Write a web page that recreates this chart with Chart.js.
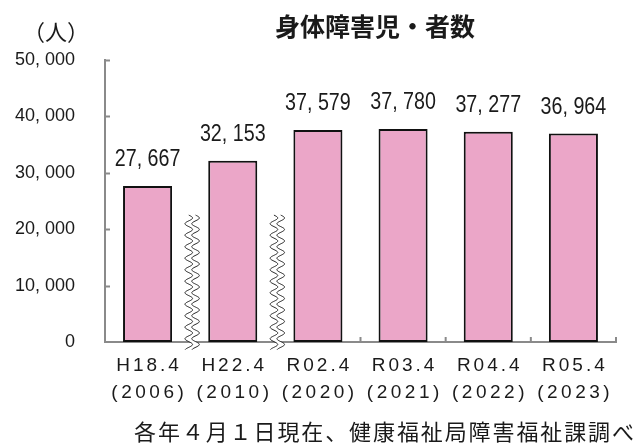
<!DOCTYPE html>
<html lang="ja">
<head>
<meta charset="utf-8">
<script src="https://cdn.jsdelivr.net/npm/chart.js@4/dist/chart.umd.min.js"></script>
<style>
  html, body { margin: 0; padding: 0; background: #fff; }
  #wrap { width: 637px; height: 444px; }
</style>
</head>
<body>
<div id="wrap"><canvas id="c" width="637" height="444"></canvas></div>
<script>
// 年度ラベル（和暦・西暦）
const eraLabels = ['H18.4', 'H22.4', 'R02.4', 'R03.4', 'R04.4', 'R05.4'];
const yearLabels = ['(2006)', '(2010)', '(2020)', '(2021)', '(2022)', '(2023)'];
// 身体障害児・者数（人）
const counts = [27667, 32153, 37579, 37780, 37277, 36964];
// 縦軸の目盛
const yTicks = [0, 10000, 20000, 30000, 40000, 50000];
// 期間が空いている箇所（省略記号を描く区切り位置）
const breakAfter = [0, 1];

const titleText = '身体障害児・者数';
const unitText = '（人）';
const noteText = '各年４月１日現在、健康福祉局障害福祉課調べ';

const SANS = '"Liberation Sans", Arial, sans-serif';
const CJK = '"Noto Sans CJK JP", "Noto Sans CJK SC", sans-serif';
const AXIS_COLOR = '#8a8a8a';

function fmt(v) {
  return v === 0 ? '0' : v.toLocaleString('en-US').replace(',', ', ');
}

function drawSpaced(ctx, text, x, y, spacing) {
  ctx.letterSpacing = spacing + 'px';
  ctx.fillText(text, x + spacing / 2, y);
  ctx.letterSpacing = '0px';
}

// 横幅を詰めた文字（数値ラベル用）
function drawCondensed(ctx, text, x, y, sx) {
  ctx.save();
  ctx.translate(x, y);
  ctx.scale(sx, 1);
  ctx.fillText(text, 0, 0);
  ctx.restore();
}

// 波線（省略記号）
function drawWave(ctx, cx, y0, y1) {
  const A = 3.8, P = 11.5, off = 3.4;
  const fx = (y) => A * Math.sin(2 * Math.PI * (y - y0) / P);
  ctx.save();
  ctx.beginPath();
  for (let y = y0; y <= y1; y += 0.5) ctx.lineTo(cx - off + fx(y), y);
  for (let y = y1; y >= y0; y -= 0.5) ctx.lineTo(cx + off + fx(y), y);
  ctx.closePath();
  ctx.fillStyle = '#fff';
  ctx.fill();
  ctx.strokeStyle = '#222';
  ctx.lineWidth = 1;
  [-off, off].forEach(d => {
    ctx.beginPath();
    for (let y = y0; y <= y1; y += 0.5) ctx.lineTo(cx + d + fx(y), y);
    ctx.stroke();
  });
  ctx.restore();
}

const decorations = {
  id: 'decorations',
  afterDatasetsDraw(chart) {
    const { ctx, chartArea, scales: { x, y } } = chart;
    ctx.save();
    // 内向きの目盛線
    ctx.strokeStyle = AXIS_COLOR;
    ctx.lineWidth = 2;
    yTicks.forEach(v => {
      if (v === 0) return;
      const py = Math.round(y.getPixelForValue(v)) + 0.5;
      ctx.beginPath();
      ctx.moveTo(chartArea.left, py);
      ctx.lineTo(chartArea.left + 5, py);
      ctx.stroke();
    });
    for (let i = 0; i < counts.length; i++) {
      const px = x.getPixelForValue(i + 0.5);
      ctx.beginPath();
      ctx.moveTo(px, chartArea.bottom);
      ctx.lineTo(px, chartArea.bottom - 5);
      ctx.stroke();
    }
    // 省略記号
    breakAfter.forEach(i => {
      const px = x.getPixelForValue(i + 0.5) + 2;
      drawWave(ctx, px, y.getPixelForValue(22500), chartArea.bottom + 8);
    });
    // 数値ラベル
    ctx.fillStyle = '#1a1a1a';
    ctx.font = '24px ' + SANS;
    ctx.textAlign = 'center';
    ctx.textBaseline = 'alphabetic';
    chart.getDatasetMeta(0).data.forEach((bar, i) => {
      drawCondensed(ctx, fmt(counts[i]), bar.x, bar.y - 20, 0.82);
    });
    // 横軸ラベル（2段）
    ctx.font = '19px ' + SANS;
    ctx.textBaseline = 'middle';
    eraLabels.forEach((t, i) => {
      const px = x.getPixelForValue(i);
      drawSpaced(ctx, t, px, chartArea.bottom + 24, 3);
      drawSpaced(ctx, yearLabels[i], px, chartArea.bottom + 51, 3.5);
    });
    ctx.restore();
  },
  afterDraw(chart) {
    const { ctx } = chart;
    ctx.save();
    ctx.fillStyle = '#1a1a1a';
    ctx.textBaseline = 'middle';
    ctx.textAlign = 'center';
    ctx.font = 'bold 25px ' + CJK;
    ctx.fillText(titleText, 375, 26);
    ctx.font = '22px ' + CJK;
    ctx.fillText(unitText, 56, 32);
    ctx.textAlign = 'left';
    ctx.font = '22px ' + CJK;
    ctx.letterSpacing = '1.9px';
    ctx.fillText(noteText, 134, 432);
    ctx.restore();
  }
};

new Chart(document.getElementById('c'), {
  type: 'bar',
  data: {
    labels: eraLabels,
    datasets: [{
      data: counts,
      backgroundColor: '#EBA6C8',
      borderColor: '#111',
      borderWidth: 2,
      borderSkipped: false,
      barPercentage: 0.64,
      categoryPercentage: 0.9
    }]
  },
  options: {
    responsive: false,
    animation: false,
    devicePixelRatio: 1,
    layout: { padding: { left: 0, right: 21, top: 60, bottom: 102 } },
    plugins: { legend: { display: false }, tooltip: { enabled: false }, title: { display: false } },
    scales: {
      x: {
        offset: true,
        grid: { display: false, drawTicks: false },
        border: { display: true, color: AXIS_COLOR, width: 2 },
        ticks: { display: false },
        afterFit(s) { s.height = 0; }
      },
      y: {
        min: 0,
        max: 50000,
        grid: { display: false, drawTicks: false },
        border: { display: true, color: AXIS_COLOR, width: 2 },
        afterBuildTicks(s) { s.ticks = yTicks.map(v => ({ value: v })); },
        ticks: {
          padding: 30,
          color: '#1a1a1a',
          font: { family: SANS, size: 18 },
          callback: (v) => fmt(v)
        },
        afterFit(s) { s.width = 105; }
      }
    }
  },
  plugins: [decorations]
});
</script>
</body>
</html>
